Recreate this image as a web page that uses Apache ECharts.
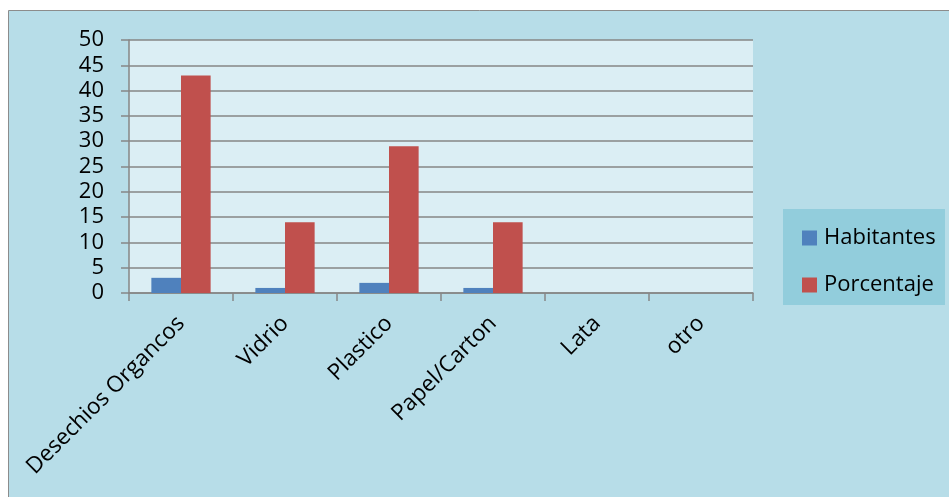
<!DOCTYPE html>
<html>
<head>
<meta charset="utf-8">
<script src="https://cdn.jsdelivr.net/npm/echarts@6/dist/echarts.min.js"></script>
<style>
  html, body { margin: 0; padding: 0; background: #ffffff; }
  #chart { width: 949px; height: 497px; }
</style>
</head>
<body>
<div id="chart"></div>
<script>
// Waste type categories
const categories = ['Desechios Organcos', 'Vidrio', 'Plastico', 'Papel/Carton', 'Lata', 'otro'];
// Series values
const habitantes = [3, 1, 2, 1, 0, 0];
const porcentaje = [43, 14, 29, 14, 0, 0];
// Value axis range
const yMin = 0, yMax = 50, yStep = 5;

const FONT = '"Open Sans", "Liberation Sans", sans-serif';
const chart = echarts.init(document.getElementById('chart'), null, { renderer: 'canvas' });

chart.setOption({
  backgroundColor: '#ffffff',
  animation: false,
  graphic: [
    {
      type: 'rect', z: -10,
      shape: { x: 8.5, y: 10.5, width: 960, height: 500 },
      style: { fill: '#b7dde8', stroke: '#8c8c8c', lineWidth: 1 }
    },
    {
      type: 'rect', z: -5,
      shape: { x: 783, y: 209, width: 162, height: 96 },
      style: { fill: '#92cddc' }
    }
  ],
  grid: {
    left: 129, right: 196, top: 40, bottom: 204,
    show: true, backgroundColor: '#dbeef4', borderWidth: 0
  },
  legend: {
    orient: 'vertical',
    left: 797, top: 222,
    itemWidth: 15, itemHeight: 15, itemGap: 25,
    icon: 'rect',
    textStyle: { fontFamily: FONT, fontSize: 22, color: '#000000', padding: [0, 0, 0, 2] },
    data: ['Habitantes', 'Porcentaje']
  },
  xAxis: {
    type: 'category',
    data: categories,
    axisLine: { lineStyle: { color: '#868686', width: 1.5 } },
    axisTick: { show: true, length: 8, lineStyle: { color: '#868686', width: 1.5 } },
    axisLabel: {
      rotate: 45, margin: 27, interval: 0,
      fontFamily: FONT, fontSize: 22.5, color: '#000000'
    }
  },
  yAxis: {
    type: 'value',
    min: yMin, max: yMax, interval: yStep,
    axisLine: { show: true, lineStyle: { color: '#868686', width: 1.5 } },
    axisTick: { show: true, length: 8, lineStyle: { color: '#868686', width: 1.5 } },
    axisLabel: { margin: 25, fontFamily: FONT, fontSize: 22, color: '#000000' },
    splitLine: { lineStyle: { color: '#868686', width: 1.5 } }
  },
  series: [
    {
      name: 'Habitantes', type: 'bar', data: habitantes,
      barGap: '0%', barCategoryGap: '43%',
      itemStyle: { color: '#4f81bd' }
    },
    {
      name: 'Porcentaje', type: 'bar', data: porcentaje,
      barGap: '0%', barCategoryGap: '43%',
      itemStyle: { color: '#c0504d' }
    }
  ]
});
</script>
</body>
</html>
